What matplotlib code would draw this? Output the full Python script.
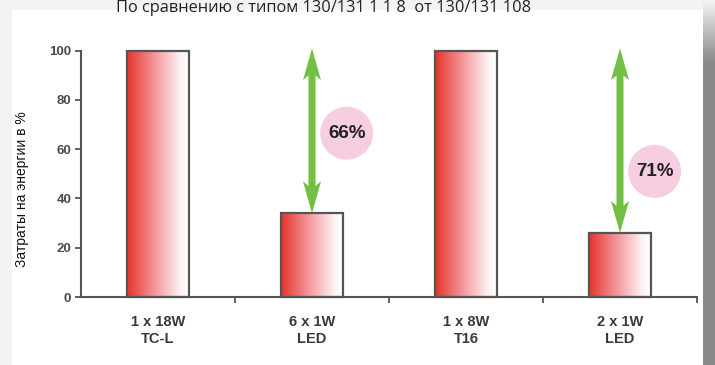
import matplotlib
matplotlib.use("Agg")
import matplotlib.pyplot as plt
import numpy as np
from matplotlib.colors import LinearSegmentedColormap
from matplotlib.patches import Polygon, Rectangle

# energy cost per fixture, percent of the reference lamp
fixtures = ["1 x 18W\nTC-L", "6 x 1W\nLED", "1 x 8W\nT16", "2 x 1W\nLED"]
energy_pct = [100, 34, 100, 26]
# savings shown between each reference lamp and its LED replacement
saving_pairs = [(0, 1), (2, 3)]
saving_labels = ["66%", "71%"]
saving_label_y = [66.5, 51]

title = "По сравнению с типом 130/131 1 1 8  от 130/131 108"
ylabel = "Затраты на энергии в %"

W, H = 715, 365
fig = plt.figure(figsize=(W / 100, H / 100), dpi=100, facecolor="#f3f3f3")

# white sheet with a grey shadow on the right
fig.patches.append(Rectangle((12 / W, 0), (703 - 12) / W, 1 - 10 / H,
                             transform=fig.transFigure, fc="white", ec="none", zorder=-5))
shadow = fig.add_axes([703 / W, 0, 12 / W, 1])
shade = np.linspace(0, 1, 200)
shade = np.clip(shade * 6, 0, 1)[:, None] * np.ones((1, 4))
shadow.imshow(shade, aspect="auto", cmap=LinearSegmentedColormap.from_list("s", ["#f3f3f3", "#8a8a8a"]),
              extent=[0, 1, 0, 1], origin="upper")
shadow.axis("off")

ax = fig.add_axes([81 / W, 1 - 297 / H, (697 - 81) / W, (297 - 50.7) / H])
ax.set_facecolor("none")

grad = LinearSegmentedColormap.from_list(
    "bar", [(0, "#e4352b"), (0.45, "#f4979b"), (0.85, "#fdf0f1"), (1, "#ffffff")])
ramp = np.linspace(0, 1, 256)[None, :]
bar_w = 0.4
xs = np.arange(len(fixtures))
for x, v in zip(xs, energy_pct):
    ax.imshow(ramp, cmap=grad, aspect="auto", extent=[x - bar_w / 2, x + bar_w / 2, 0, v],
              zorder=2, interpolation="bilinear")
ax.bar(xs, energy_pct, width=bar_w, fill=False, edgecolor="#555555", linewidth=1.6,
       zorder=3, clip_on=False)

ax.set_xlim(-0.5, 3.5)
ax.set_ylim(0, 100)

# green double arrows, sized in pixels
px_x = 1 / 154.0
px_y = 100 / 246.3
shaft, head_w, head_l = 3.5, 9, 32
green = "#72bf44"
for (a, b), lab, ly in zip(saving_pairs, saving_labels, saving_label_y):
    cx = xs[b]
    top, bot = energy_pct[a] + 1, energy_pct[b]
    verts = [
        (cx, top),
        (cx + head_w * px_x, top - head_l * px_y),
        (cx + shaft * px_x, top - head_l * px_y * 0.85),
        (cx + shaft * px_x, bot + head_l * px_y * 0.85),
        (cx + head_w * px_x, bot + head_l * px_y),
        (cx, bot),
        (cx - head_w * px_x, bot + head_l * px_y),
        (cx - shaft * px_x, bot + head_l * px_y * 0.85),
        (cx - shaft * px_x, top - head_l * px_y * 0.85),
        (cx - head_w * px_x, top - head_l * px_y),
    ]
    ax.add_patch(Polygon(verts, closed=True, fc=green, ec="none", zorder=4, clip_on=False))
    lx = cx + 0.225
    ax.scatter([lx], [ly], s=1450, color="#f6cde1", edgecolors="none", zorder=5, clip_on=False)
    ax.text(lx, ly, lab, ha="center", va="center", fontsize=13.5, fontweight="bold",
            color="#222222", zorder=6, family="Liberation Sans")

for s in ["top", "right"]:
    ax.spines[s].set_visible(False)
for s in ["left", "bottom"]:
    ax.spines[s].set_color("#555555")
    ax.spines[s].set_linewidth(1.5)

ax.set_yticks(range(0, 101, 20))
ax.tick_params(axis="y", direction="out", length=4, width=1.3, color="#555555",
               labelsize=9.5, labelcolor="#4a4a4a", pad=3)
ax.set_xticks(xs)
ax.set_xticklabels(fixtures, fontsize=10.5, color="#3a3a3a", linespacing=1.3)
ax.tick_params(axis="x", length=0, pad=13)
ax.set_xticks(np.arange(0.5, 4, 1), minor=True)
ax.tick_params(axis="x", which="minor", direction="out", length=4, width=1.3, color="#555555")
for t in ax.get_yticklabels() + ax.get_xticklabels():
    t.set_family("Liberation Sans")
    t.set_fontweight("bold")

fig.text(22 / W, 1 - 189 / H, ylabel, rotation=90, ha="center", va="center",
         fontsize=10, color="#111111", family="Liberation Sans")
fig.text(324 / W, 1 - 0.5 / H, title, ha="center", va="top", fontsize=11.8,
         color="#222222", family="Open Sans")

fig.savefig("out.png", dpi=100, facecolor=fig.get_facecolor())
